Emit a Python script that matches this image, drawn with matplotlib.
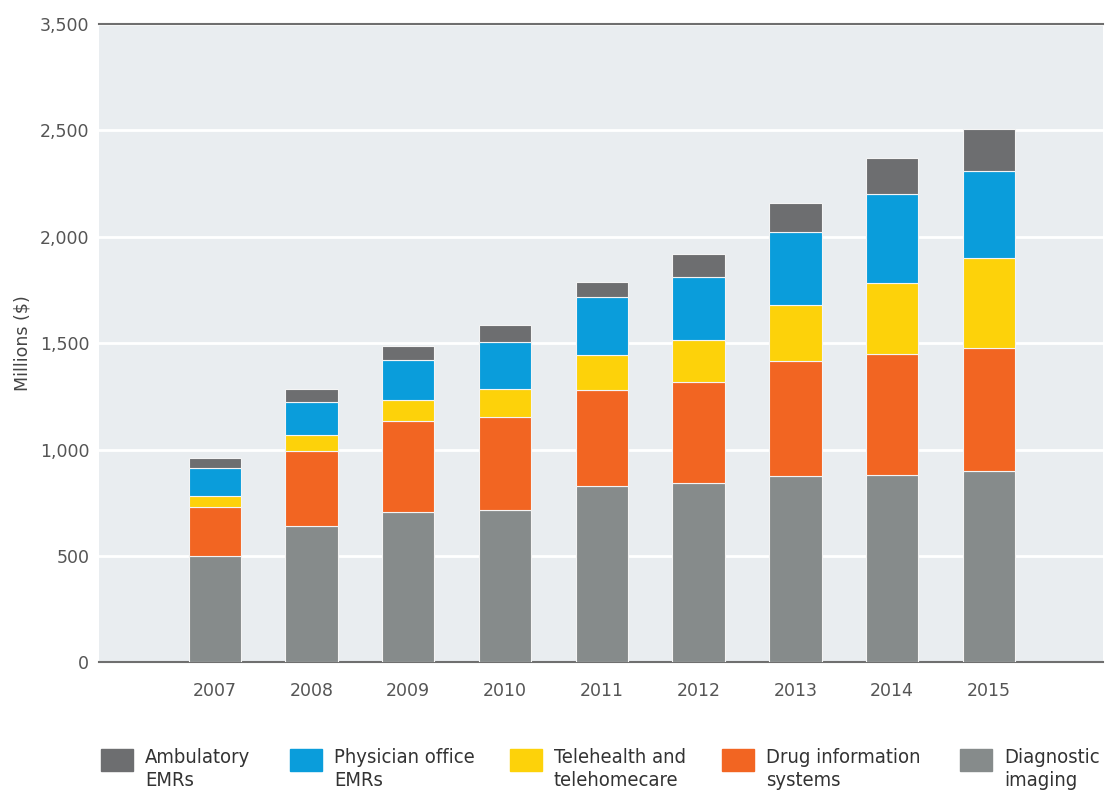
import matplotlib.pyplot as plt
from matplotlib.patches import Rectangle
import numpy as np

# Data (millions of dollars)
years = ['2007', '2008', '2009', '2010', '2011', '2012', '2013', '2014', '2015']
diagnostic_imaging = [500, 640, 705, 715, 830, 845, 875, 880, 900]
drug_information = [230, 355, 430, 440, 450, 475, 540, 570, 580]
telehealth = [50, 75, 100, 130, 165, 195, 265, 335, 420]
physician_emrs = [135, 155, 185, 220, 270, 295, 345, 415, 410]
ambulatory_emrs = [45, 60, 65, 80, 75, 110, 135, 170, 195]

# y ticks as printed on the original (the top label reads 3,500)
ytick_values = [0, 500, 1000, 1500, 2000, 2500, 3000]
ytick_labels = ['0', '500', '1,000', '1,500', '2,000', '2,500', '3,500']

series = [
    ('Diagnostic\nimaging', diagnostic_imaging, '#868b8b'),
    ('Drug information\nsystems', drug_information, '#f26522'),
    ('Telehealth and\ntelehomecare', telehealth, '#fdd20a'),
    ('Physician office\nEMRs', physician_emrs, '#0a9ddb'),
    ('Ambulatory\nEMRs', ambulatory_emrs, '#6d6e70'),
]

fig = plt.figure(figsize=(11.05, 7.93), dpi=100)
ax = fig.add_axes([0.0896, 0.1646, 0.9084, 0.8051])
ax.set_facecolor('#e9edf0')

x = np.arange(len(years))
bottom = np.zeros(len(years))
for name, vals, color in series:
    ax.bar(x, vals, width=0.54, bottom=bottom, color=color,
           edgecolor='#f4f4f4', linewidth=0.8, zorder=3)
    bottom += np.array(vals)

ax.set_xlim(-1.195, len(years) - 1 + 1.176)
ax.set_ylim(0, 3000)
ax.set_xticks(x)
ax.set_xticklabels(years)
ax.set_yticks(ytick_values)
ax.set_yticklabels(ytick_labels)
ax.tick_params(axis='both', length=0, labelsize=12.5, colors='#555555')
ax.tick_params(axis='x', pad=14)
ax.tick_params(axis='y', pad=7)

ax.grid(axis='y', color='white', linewidth=2, zorder=0)
ax.set_axisbelow(True)
for side in ['left', 'right']:
    ax.spines[side].set_visible(False)
for side in ['top', 'bottom']:
    ax.spines[side].set_color('#6f6f6f')
    ax.spines[side].set_linewidth(1.5)

ax.set_ylabel('Millions ($)', fontsize=12.5, color='#444444', labelpad=6,
              fontweight='medium')

# Legend laid out by hand along the bottom
legend_order = [4, 3, 2, 1, 0]
box_x = [101, 290, 510, 722, 960]
W, H = 1105, 793
for i, bx in zip(legend_order, box_x):
    name, vals, color = series[i]
    fig.add_artist(Rectangle((bx / W, 1 - 771 / H), 32 / W, 22 / H,
                             transform=fig.transFigure, color=color))
    fig.text((bx + 44) / W, 1 - 748 / H, name, ha='left', va='top',
             fontsize=14.5, family='DejaVu Sans', fontstretch='condensed',
             color='#333333', linespacing=1.3)

fig.savefig('out.png', dpi=100)
